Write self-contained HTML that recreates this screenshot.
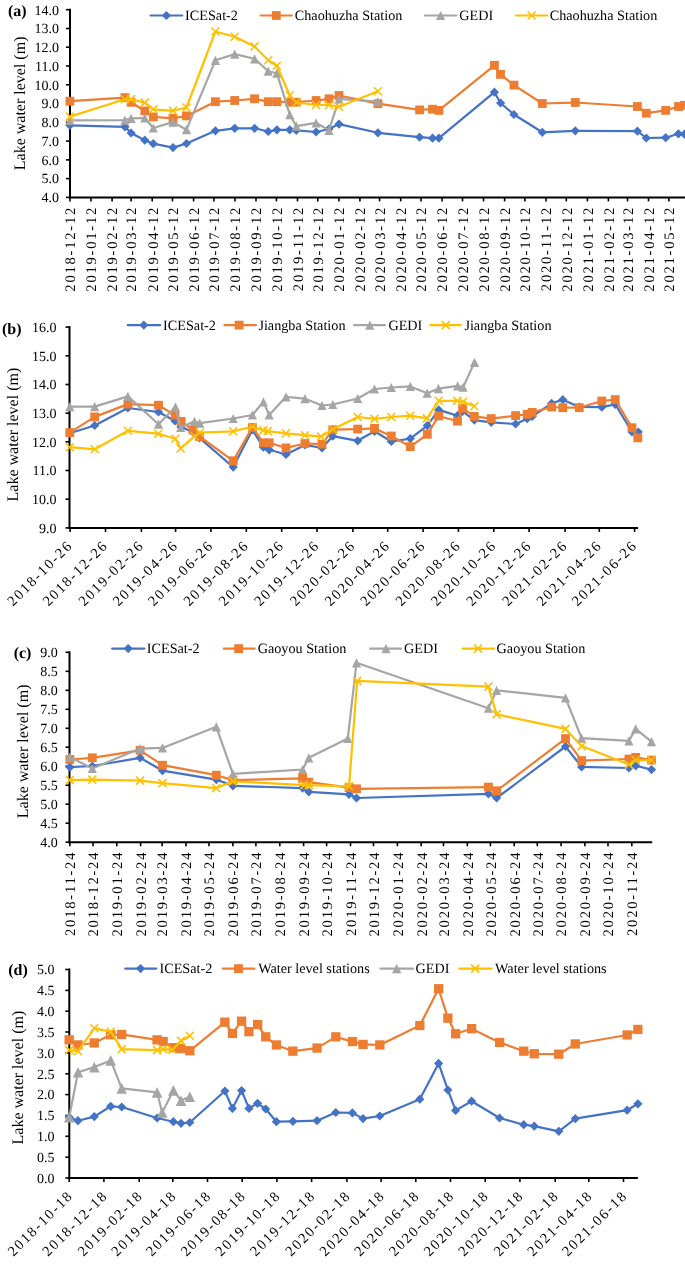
<!DOCTYPE html><html><head><meta charset="utf-8"><style>html,body{margin:0;padding:0;background:#fff;}svg{display:block;}text{font-family:"Liberation Serif",serif;text-rendering:geometricPrecision;}svg{will-change:transform;}</style></head><body>
<svg width="685" height="1283" viewBox="0 0 685 1283">
<rect width="685" height="1283" fill="#fff"/>
<line x1="70" y1="8.7" x2="70" y2="198.4" stroke="#000" stroke-width="2"/>
<line x1="69" y1="197.4" x2="690" y2="197.4" stroke="#000" stroke-width="2"/>
<line x1="66" y1="9.7" x2="70" y2="9.7" stroke="#000" stroke-width="1.6"/>
<text x="59" y="14.5" font-size="14" text-anchor="end" >14.0</text>
<line x1="66" y1="28.5" x2="70" y2="28.5" stroke="#000" stroke-width="1.6"/>
<text x="59" y="33.3" font-size="14" text-anchor="end" >13.0</text>
<line x1="66" y1="47.2" x2="70" y2="47.2" stroke="#000" stroke-width="1.6"/>
<text x="59" y="52.0" font-size="14" text-anchor="end" >12.0</text>
<line x1="66" y1="66.0" x2="70" y2="66.0" stroke="#000" stroke-width="1.6"/>
<text x="59" y="70.8" font-size="14" text-anchor="end" >11.0</text>
<line x1="66" y1="84.8" x2="70" y2="84.8" stroke="#000" stroke-width="1.6"/>
<text x="59" y="89.6" font-size="14" text-anchor="end" >10.0</text>
<line x1="66" y1="103.6" x2="70" y2="103.6" stroke="#000" stroke-width="1.6"/>
<text x="59" y="108.4" font-size="14" text-anchor="end" >9.0</text>
<line x1="66" y1="122.3" x2="70" y2="122.3" stroke="#000" stroke-width="1.6"/>
<text x="59" y="127.1" font-size="14" text-anchor="end" >8.0</text>
<line x1="66" y1="141.1" x2="70" y2="141.1" stroke="#000" stroke-width="1.6"/>
<text x="59" y="145.9" font-size="14" text-anchor="end" >7.0</text>
<line x1="66" y1="159.9" x2="70" y2="159.9" stroke="#000" stroke-width="1.6"/>
<text x="59" y="164.7" font-size="14" text-anchor="end" >6.0</text>
<line x1="66" y1="178.6" x2="70" y2="178.6" stroke="#000" stroke-width="1.6"/>
<text x="59" y="183.4" font-size="14" text-anchor="end" >5.0</text>
<line x1="66" y1="197.4" x2="70" y2="197.4" stroke="#000" stroke-width="1.6"/>
<text x="59" y="202.2" font-size="14" text-anchor="end" >4.0</text>
<text transform="translate(25.0,103.4) rotate(-90)" font-size="16" text-anchor="middle" >Lake water level (m)</text>
<text x="8" y="15.7" font-size="16" font-weight="bold" >(a)</text>
<line x1="70.0" y1="197.4" x2="70.0" y2="201.4" stroke="#000" stroke-width="1.6"/>
<text transform="translate(75.3,206.0) rotate(-90)" font-size="14.5" letter-spacing="1.8" text-anchor="end" >2018-12-12</text>
<line x1="91.0" y1="197.4" x2="91.0" y2="201.4" stroke="#000" stroke-width="1.6"/>
<text transform="translate(96.3,206.0) rotate(-90)" font-size="14.5" letter-spacing="1.8" text-anchor="end" >2019-01-12</text>
<line x1="112.1" y1="197.4" x2="112.1" y2="201.4" stroke="#000" stroke-width="1.6"/>
<text transform="translate(117.4,206.0) rotate(-90)" font-size="14.5" letter-spacing="1.8" text-anchor="end" >2019-02-12</text>
<line x1="131.1" y1="197.4" x2="131.1" y2="201.4" stroke="#000" stroke-width="1.6"/>
<text transform="translate(136.4,206.0) rotate(-90)" font-size="14.5" letter-spacing="1.8" text-anchor="end" >2019-03-12</text>
<line x1="152.2" y1="197.4" x2="152.2" y2="201.4" stroke="#000" stroke-width="1.6"/>
<text transform="translate(157.5,206.0) rotate(-90)" font-size="14.5" letter-spacing="1.8" text-anchor="end" >2019-04-12</text>
<line x1="172.5" y1="197.4" x2="172.5" y2="201.4" stroke="#000" stroke-width="1.6"/>
<text transform="translate(177.8,206.0) rotate(-90)" font-size="14.5" letter-spacing="1.8" text-anchor="end" >2019-05-12</text>
<line x1="193.6" y1="197.4" x2="193.6" y2="201.4" stroke="#000" stroke-width="1.6"/>
<text transform="translate(198.9,206.0) rotate(-90)" font-size="14.5" letter-spacing="1.8" text-anchor="end" >2019-06-12</text>
<line x1="213.9" y1="197.4" x2="213.9" y2="201.4" stroke="#000" stroke-width="1.6"/>
<text transform="translate(219.2,206.0) rotate(-90)" font-size="14.5" letter-spacing="1.8" text-anchor="end" >2019-07-12</text>
<line x1="235.0" y1="197.4" x2="235.0" y2="201.4" stroke="#000" stroke-width="1.6"/>
<text transform="translate(240.3,206.0) rotate(-90)" font-size="14.5" letter-spacing="1.8" text-anchor="end" >2019-08-12</text>
<line x1="256.0" y1="197.4" x2="256.0" y2="201.4" stroke="#000" stroke-width="1.6"/>
<text transform="translate(261.3,206.0) rotate(-90)" font-size="14.5" letter-spacing="1.8" text-anchor="end" >2019-09-12</text>
<line x1="276.4" y1="197.4" x2="276.4" y2="201.4" stroke="#000" stroke-width="1.6"/>
<text transform="translate(281.7,206.0) rotate(-90)" font-size="14.5" letter-spacing="1.8" text-anchor="end" >2019-10-12</text>
<line x1="297.5" y1="197.4" x2="297.5" y2="201.4" stroke="#000" stroke-width="1.6"/>
<text transform="translate(302.8,206.0) rotate(-90)" font-size="14.5" letter-spacing="1.8" text-anchor="end" >2019-11-12</text>
<line x1="317.8" y1="197.4" x2="317.8" y2="201.4" stroke="#000" stroke-width="1.6"/>
<text transform="translate(323.1,206.0) rotate(-90)" font-size="14.5" letter-spacing="1.8" text-anchor="end" >2019-12-12</text>
<line x1="338.9" y1="197.4" x2="338.9" y2="201.4" stroke="#000" stroke-width="1.6"/>
<text transform="translate(344.2,206.0) rotate(-90)" font-size="14.5" letter-spacing="1.8" text-anchor="end" >2020-01-12</text>
<line x1="359.9" y1="197.4" x2="359.9" y2="201.4" stroke="#000" stroke-width="1.6"/>
<text transform="translate(365.2,206.0) rotate(-90)" font-size="14.5" letter-spacing="1.8" text-anchor="end" >2020-02-12</text>
<line x1="379.6" y1="197.4" x2="379.6" y2="201.4" stroke="#000" stroke-width="1.6"/>
<text transform="translate(384.9,206.0) rotate(-90)" font-size="14.5" letter-spacing="1.8" text-anchor="end" >2020-03-12</text>
<line x1="400.7" y1="197.4" x2="400.7" y2="201.4" stroke="#000" stroke-width="1.6"/>
<text transform="translate(406.0,206.0) rotate(-90)" font-size="14.5" letter-spacing="1.8" text-anchor="end" >2020-04-12</text>
<line x1="421.0" y1="197.4" x2="421.0" y2="201.4" stroke="#000" stroke-width="1.6"/>
<text transform="translate(426.3,206.0) rotate(-90)" font-size="14.5" letter-spacing="1.8" text-anchor="end" >2020-05-12</text>
<line x1="442.1" y1="197.4" x2="442.1" y2="201.4" stroke="#000" stroke-width="1.6"/>
<text transform="translate(447.4,206.0) rotate(-90)" font-size="14.5" letter-spacing="1.8" text-anchor="end" >2020-06-12</text>
<line x1="462.5" y1="197.4" x2="462.5" y2="201.4" stroke="#000" stroke-width="1.6"/>
<text transform="translate(467.8,206.0) rotate(-90)" font-size="14.5" letter-spacing="1.8" text-anchor="end" >2020-07-12</text>
<line x1="483.5" y1="197.4" x2="483.5" y2="201.4" stroke="#000" stroke-width="1.6"/>
<text transform="translate(488.8,206.0) rotate(-90)" font-size="14.5" letter-spacing="1.8" text-anchor="end" >2020-08-12</text>
<line x1="504.6" y1="197.4" x2="504.6" y2="201.4" stroke="#000" stroke-width="1.6"/>
<text transform="translate(509.9,206.0) rotate(-90)" font-size="14.5" letter-spacing="1.8" text-anchor="end" >2020-09-12</text>
<line x1="524.9" y1="197.4" x2="524.9" y2="201.4" stroke="#000" stroke-width="1.6"/>
<text transform="translate(530.2,206.0) rotate(-90)" font-size="14.5" letter-spacing="1.8" text-anchor="end" >2020-10-12</text>
<line x1="546.0" y1="197.4" x2="546.0" y2="201.4" stroke="#000" stroke-width="1.6"/>
<text transform="translate(551.3,206.0) rotate(-90)" font-size="14.5" letter-spacing="1.8" text-anchor="end" >2020-11-12</text>
<line x1="566.3" y1="197.4" x2="566.3" y2="201.4" stroke="#000" stroke-width="1.6"/>
<text transform="translate(571.6,206.0) rotate(-90)" font-size="14.5" letter-spacing="1.8" text-anchor="end" >2020-12-12</text>
<line x1="587.4" y1="197.4" x2="587.4" y2="201.4" stroke="#000" stroke-width="1.6"/>
<text transform="translate(592.7,206.0) rotate(-90)" font-size="14.5" letter-spacing="1.8" text-anchor="end" >2021-01-12</text>
<line x1="608.4" y1="197.4" x2="608.4" y2="201.4" stroke="#000" stroke-width="1.6"/>
<text transform="translate(613.7,206.0) rotate(-90)" font-size="14.5" letter-spacing="1.8" text-anchor="end" >2021-02-12</text>
<line x1="627.5" y1="197.4" x2="627.5" y2="201.4" stroke="#000" stroke-width="1.6"/>
<text transform="translate(632.8,206.0) rotate(-90)" font-size="14.5" letter-spacing="1.8" text-anchor="end" >2021-03-12</text>
<line x1="648.5" y1="197.4" x2="648.5" y2="201.4" stroke="#000" stroke-width="1.6"/>
<text transform="translate(653.8,206.0) rotate(-90)" font-size="14.5" letter-spacing="1.8" text-anchor="end" >2021-04-12</text>
<line x1="668.9" y1="197.4" x2="668.9" y2="201.4" stroke="#000" stroke-width="1.6"/>
<text transform="translate(674.2,206.0) rotate(-90)" font-size="14.5" letter-spacing="1.8" text-anchor="end" >2021-05-12</text>
<svg x="0" y="0" width="685" height="300" overflow="hidden">
<polyline points="69.9,125.3 124.9,126.8 131.1,133 144.8,140.2 153.3,143.7 173,147.6 186.5,143.5 215.4,130.8 234.7,128.3 254.6,128.3 268.2,131.5 276.9,129.8 289.8,129.8 296.3,130.3 316.1,132 329,129 339,124.1 377.9,132.8 419.6,137.2 432.5,138.2 438.9,138.2 494.4,92.2 500.6,103 513.9,114.5 542.3,132.3 575.3,130.8 637.4,131.2 646.3,138 665.7,137.7 678.4,133.8 684.5,134.2" fill="none" stroke="#4472C4" stroke-width="2.2" stroke-linejoin="round"/>
<path d="M69.9,120.7L74.5,125.3L69.9,129.9L65.3,125.3Z" fill="#4472C4"/>
<path d="M124.9,122.2L129.5,126.8L124.9,131.4L120.3,126.8Z" fill="#4472C4"/>
<path d="M131.1,128.4L135.7,133.0L131.1,137.6L126.5,133.0Z" fill="#4472C4"/>
<path d="M144.8,135.6L149.4,140.2L144.8,144.8L140.2,140.2Z" fill="#4472C4"/>
<path d="M153.3,139.1L157.9,143.7L153.3,148.3L148.7,143.7Z" fill="#4472C4"/>
<path d="M173.0,143.0L177.6,147.6L173.0,152.2L168.4,147.6Z" fill="#4472C4"/>
<path d="M186.5,138.9L191.1,143.5L186.5,148.1L181.9,143.5Z" fill="#4472C4"/>
<path d="M215.4,126.2L220.0,130.8L215.4,135.4L210.8,130.8Z" fill="#4472C4"/>
<path d="M234.7,123.7L239.3,128.3L234.7,132.9L230.1,128.3Z" fill="#4472C4"/>
<path d="M254.6,123.7L259.2,128.3L254.6,132.9L250.0,128.3Z" fill="#4472C4"/>
<path d="M268.2,126.9L272.8,131.5L268.2,136.1L263.6,131.5Z" fill="#4472C4"/>
<path d="M276.9,125.2L281.5,129.8L276.9,134.4L272.3,129.8Z" fill="#4472C4"/>
<path d="M289.8,125.2L294.4,129.8L289.8,134.4L285.2,129.8Z" fill="#4472C4"/>
<path d="M296.3,125.7L300.9,130.3L296.3,134.9L291.7,130.3Z" fill="#4472C4"/>
<path d="M316.1,127.4L320.7,132.0L316.1,136.6L311.5,132.0Z" fill="#4472C4"/>
<path d="M329.0,124.4L333.6,129.0L329.0,133.6L324.4,129.0Z" fill="#4472C4"/>
<path d="M339.0,119.5L343.6,124.1L339.0,128.7L334.4,124.1Z" fill="#4472C4"/>
<path d="M377.9,128.2L382.5,132.8L377.9,137.4L373.3,132.8Z" fill="#4472C4"/>
<path d="M419.6,132.6L424.2,137.2L419.6,141.8L415.0,137.2Z" fill="#4472C4"/>
<path d="M432.5,133.6L437.1,138.2L432.5,142.8L427.9,138.2Z" fill="#4472C4"/>
<path d="M438.9,133.6L443.5,138.2L438.9,142.8L434.3,138.2Z" fill="#4472C4"/>
<path d="M494.4,87.6L499.0,92.2L494.4,96.8L489.8,92.2Z" fill="#4472C4"/>
<path d="M500.6,98.4L505.2,103.0L500.6,107.6L496.0,103.0Z" fill="#4472C4"/>
<path d="M513.9,109.9L518.5,114.5L513.9,119.1L509.3,114.5Z" fill="#4472C4"/>
<path d="M542.3,127.7L546.9,132.3L542.3,136.9L537.7,132.3Z" fill="#4472C4"/>
<path d="M575.3,126.2L579.9,130.8L575.3,135.4L570.7,130.8Z" fill="#4472C4"/>
<path d="M637.4,126.6L642.0,131.2L637.4,135.8L632.8,131.2Z" fill="#4472C4"/>
<path d="M646.3,133.4L650.9,138.0L646.3,142.6L641.7,138.0Z" fill="#4472C4"/>
<path d="M665.7,133.1L670.3,137.7L665.7,142.3L661.1,137.7Z" fill="#4472C4"/>
<path d="M678.4,129.2L683.0,133.8L678.4,138.4L673.8,133.8Z" fill="#4472C4"/>
<path d="M684.5,129.6L689.1,134.2L684.5,138.8L679.9,134.2Z" fill="#4472C4"/>
<polyline points="69.9,101.2 124.9,97.6 131.1,102.3 144.8,111 153.3,116.9 173,118.4 186.5,115.9 215.4,101.7 234.7,100.5 254.6,98.8 268.2,101.7 276.9,101.7 289.8,102.2 296.3,102.2 316.1,100.5 329,98.8 339,95.5 377.9,103.7 419.6,109.9 432.5,109.2 438.9,110.4 494.4,65.3 500.5,74.4 513.9,85.1 542.3,103.5 575.3,102.5 637.4,106.5 646.3,113.2 665.7,110.4 678.6,106.5 684.5,105.3" fill="none" stroke="#ED7D31" stroke-width="2.2" stroke-linejoin="round"/>
<rect x="65.5" y="96.8" width="8.8" height="8.8" fill="#ED7D31"/>
<rect x="120.5" y="93.2" width="8.8" height="8.8" fill="#ED7D31"/>
<rect x="126.7" y="97.9" width="8.8" height="8.8" fill="#ED7D31"/>
<rect x="140.4" y="106.6" width="8.8" height="8.8" fill="#ED7D31"/>
<rect x="148.9" y="112.5" width="8.8" height="8.8" fill="#ED7D31"/>
<rect x="168.6" y="114.0" width="8.8" height="8.8" fill="#ED7D31"/>
<rect x="182.1" y="111.5" width="8.8" height="8.8" fill="#ED7D31"/>
<rect x="211.0" y="97.3" width="8.8" height="8.8" fill="#ED7D31"/>
<rect x="230.3" y="96.1" width="8.8" height="8.8" fill="#ED7D31"/>
<rect x="250.2" y="94.4" width="8.8" height="8.8" fill="#ED7D31"/>
<rect x="263.8" y="97.3" width="8.8" height="8.8" fill="#ED7D31"/>
<rect x="272.5" y="97.3" width="8.8" height="8.8" fill="#ED7D31"/>
<rect x="285.4" y="97.8" width="8.8" height="8.8" fill="#ED7D31"/>
<rect x="291.9" y="97.8" width="8.8" height="8.8" fill="#ED7D31"/>
<rect x="311.7" y="96.1" width="8.8" height="8.8" fill="#ED7D31"/>
<rect x="324.6" y="94.4" width="8.8" height="8.8" fill="#ED7D31"/>
<rect x="334.6" y="91.1" width="8.8" height="8.8" fill="#ED7D31"/>
<rect x="373.5" y="99.3" width="8.8" height="8.8" fill="#ED7D31"/>
<rect x="415.2" y="105.5" width="8.8" height="8.8" fill="#ED7D31"/>
<rect x="428.1" y="104.8" width="8.8" height="8.8" fill="#ED7D31"/>
<rect x="434.5" y="106.0" width="8.8" height="8.8" fill="#ED7D31"/>
<rect x="490.0" y="60.9" width="8.8" height="8.8" fill="#ED7D31"/>
<rect x="496.1" y="70.0" width="8.8" height="8.8" fill="#ED7D31"/>
<rect x="509.5" y="80.7" width="8.8" height="8.8" fill="#ED7D31"/>
<rect x="537.9" y="99.1" width="8.8" height="8.8" fill="#ED7D31"/>
<rect x="570.9" y="98.1" width="8.8" height="8.8" fill="#ED7D31"/>
<rect x="633.0" y="102.1" width="8.8" height="8.8" fill="#ED7D31"/>
<rect x="641.9" y="108.8" width="8.8" height="8.8" fill="#ED7D31"/>
<rect x="661.3" y="106.0" width="8.8" height="8.8" fill="#ED7D31"/>
<rect x="674.2" y="102.1" width="8.8" height="8.8" fill="#ED7D31"/>
<rect x="680.1" y="100.9" width="8.8" height="8.8" fill="#ED7D31"/>
<polyline points="69.9,120.3 124.9,120.1 131.1,118.4 144.8,118 153.3,128 173,122.1 186.5,129.7 215.4,60.3 234.7,54.1 254.6,58.8 268.2,71.2 276.9,73.2 289.8,114.6 296.3,126.1 316.1,122.8 329,130.3 339,98.8 377.9,101.7" fill="none" stroke="#A5A5A5" stroke-width="2.2" stroke-linejoin="round"/>
<path d="M69.9,115.7L74.5,124.9L65.3,124.9Z" fill="#A5A5A5"/>
<path d="M124.9,115.5L129.5,124.7L120.3,124.7Z" fill="#A5A5A5"/>
<path d="M131.1,113.8L135.7,123.0L126.5,123.0Z" fill="#A5A5A5"/>
<path d="M144.8,113.4L149.4,122.6L140.2,122.6Z" fill="#A5A5A5"/>
<path d="M153.3,123.4L157.9,132.6L148.7,132.6Z" fill="#A5A5A5"/>
<path d="M173.0,117.5L177.6,126.7L168.4,126.7Z" fill="#A5A5A5"/>
<path d="M186.5,125.1L191.1,134.3L181.9,134.3Z" fill="#A5A5A5"/>
<path d="M215.4,55.7L220.0,64.9L210.8,64.9Z" fill="#A5A5A5"/>
<path d="M234.7,49.5L239.3,58.7L230.1,58.7Z" fill="#A5A5A5"/>
<path d="M254.6,54.2L259.2,63.4L250.0,63.4Z" fill="#A5A5A5"/>
<path d="M268.2,66.6L272.8,75.8L263.6,75.8Z" fill="#A5A5A5"/>
<path d="M276.9,68.6L281.5,77.8L272.3,77.8Z" fill="#A5A5A5"/>
<path d="M289.8,110.0L294.4,119.2L285.2,119.2Z" fill="#A5A5A5"/>
<path d="M296.3,121.5L300.9,130.7L291.7,130.7Z" fill="#A5A5A5"/>
<path d="M316.1,118.2L320.7,127.4L311.5,127.4Z" fill="#A5A5A5"/>
<path d="M329.0,125.7L333.6,134.9L324.4,134.9Z" fill="#A5A5A5"/>
<path d="M339.0,94.2L343.6,103.4L334.4,103.4Z" fill="#A5A5A5"/>
<path d="M377.9,97.1L382.5,106.3L373.3,106.3Z" fill="#A5A5A5"/>
<polyline points="69.9,116.6 124.9,99.3 131.1,99.3 144.8,102.6 153.3,109.3 173,110.8 186.5,107.5 215.4,31.5 234.7,36.7 254.6,46.4 268.2,60.3 276.9,65.8 289.8,95.5 296.3,102.5 316.1,105 329,105 339,106.7 377.9,91.3" fill="none" stroke="#FFC000" stroke-width="2.2" stroke-linejoin="round"/>
<path d="M65.9,112.6L73.9,120.6M73.9,112.6L65.9,120.6" stroke="#FFC000" stroke-width="1.6" fill="none"/>
<path d="M120.9,95.3L128.9,103.3M128.9,95.3L120.9,103.3" stroke="#FFC000" stroke-width="1.6" fill="none"/>
<path d="M127.1,95.3L135.1,103.3M135.1,95.3L127.1,103.3" stroke="#FFC000" stroke-width="1.6" fill="none"/>
<path d="M140.8,98.6L148.8,106.6M148.8,98.6L140.8,106.6" stroke="#FFC000" stroke-width="1.6" fill="none"/>
<path d="M149.3,105.3L157.3,113.3M157.3,105.3L149.3,113.3" stroke="#FFC000" stroke-width="1.6" fill="none"/>
<path d="M169.0,106.8L177.0,114.8M177.0,106.8L169.0,114.8" stroke="#FFC000" stroke-width="1.6" fill="none"/>
<path d="M182.5,103.5L190.5,111.5M190.5,103.5L182.5,111.5" stroke="#FFC000" stroke-width="1.6" fill="none"/>
<path d="M211.4,27.5L219.4,35.5M219.4,27.5L211.4,35.5" stroke="#FFC000" stroke-width="1.6" fill="none"/>
<path d="M230.7,32.7L238.7,40.7M238.7,32.7L230.7,40.7" stroke="#FFC000" stroke-width="1.6" fill="none"/>
<path d="M250.6,42.4L258.6,50.4M258.6,42.4L250.6,50.4" stroke="#FFC000" stroke-width="1.6" fill="none"/>
<path d="M264.2,56.3L272.2,64.3M272.2,56.3L264.2,64.3" stroke="#FFC000" stroke-width="1.6" fill="none"/>
<path d="M272.9,61.8L280.9,69.8M280.9,61.8L272.9,69.8" stroke="#FFC000" stroke-width="1.6" fill="none"/>
<path d="M285.8,91.5L293.8,99.5M293.8,91.5L285.8,99.5" stroke="#FFC000" stroke-width="1.6" fill="none"/>
<path d="M292.3,98.5L300.3,106.5M300.3,98.5L292.3,106.5" stroke="#FFC000" stroke-width="1.6" fill="none"/>
<path d="M312.1,101.0L320.1,109.0M320.1,101.0L312.1,109.0" stroke="#FFC000" stroke-width="1.6" fill="none"/>
<path d="M325.0,101.0L333.0,109.0M333.0,101.0L325.0,109.0" stroke="#FFC000" stroke-width="1.6" fill="none"/>
<path d="M335.0,102.7L343.0,110.7M343.0,102.7L335.0,110.7" stroke="#FFC000" stroke-width="1.6" fill="none"/>
<path d="M373.9,87.3L381.9,95.3M381.9,87.3L373.9,95.3" stroke="#FFC000" stroke-width="1.6" fill="none"/>
</svg>
<line x1="150.6" y1="15.5" x2="182.2" y2="15.5" stroke="#4472C4" stroke-width="2.2" stroke-linecap="round"/>
<path d="M166.4,10.9L171.0,15.5L166.4,20.1L161.8,15.5Z" fill="#4472C4"/>
<text x="185.1" y="20.2" font-size="14.2" >ICESat-2</text>
<line x1="260.7" y1="15.5" x2="291.8" y2="15.5" stroke="#ED7D31" stroke-width="2.2" stroke-linecap="round"/>
<rect x="271.9" y="11.1" width="8.8" height="8.8" fill="#ED7D31"/>
<text x="294.8" y="20.2" font-size="14.2" >Chaohuzha Station</text>
<line x1="425" y1="15.5" x2="456.3" y2="15.5" stroke="#A5A5A5" stroke-width="2.2" stroke-linecap="round"/>
<path d="M440.6,10.9L445.2,20.1L436.0,20.1Z" fill="#A5A5A5"/>
<text x="459.3" y="20.2" font-size="14.2" >GEDI</text>
<line x1="516" y1="15.5" x2="547.3" y2="15.5" stroke="#FFC000" stroke-width="2.2" stroke-linecap="round"/>
<path d="M527.6,11.5L535.6,19.5M535.6,11.5L527.6,19.5" stroke="#FFC000" stroke-width="1.6" fill="none"/>
<text x="549.7" y="20.2" font-size="14.2" >Chaohuzha Station</text>
<line x1="69.5" y1="326.1" x2="69.5" y2="528.9" stroke="#000" stroke-width="2"/>
<line x1="68.5" y1="527.9" x2="638.1" y2="527.9" stroke="#000" stroke-width="2"/>
<line x1="65.5" y1="327.1" x2="69.5" y2="327.1" stroke="#000" stroke-width="1.6"/>
<text x="56.6" y="331.9" font-size="14" text-anchor="end" >16.0</text>
<line x1="65.5" y1="355.8" x2="69.5" y2="355.8" stroke="#000" stroke-width="1.6"/>
<text x="56.6" y="360.6" font-size="14" text-anchor="end" >15.0</text>
<line x1="65.5" y1="384.5" x2="69.5" y2="384.5" stroke="#000" stroke-width="1.6"/>
<text x="56.6" y="389.3" font-size="14" text-anchor="end" >14.0</text>
<line x1="65.5" y1="413.2" x2="69.5" y2="413.2" stroke="#000" stroke-width="1.6"/>
<text x="56.6" y="418.0" font-size="14" text-anchor="end" >13.0</text>
<line x1="65.5" y1="441.8" x2="69.5" y2="441.8" stroke="#000" stroke-width="1.6"/>
<text x="56.6" y="446.6" font-size="14" text-anchor="end" >12.0</text>
<line x1="65.5" y1="470.5" x2="69.5" y2="470.5" stroke="#000" stroke-width="1.6"/>
<text x="56.6" y="475.3" font-size="14" text-anchor="end" >11.0</text>
<line x1="65.5" y1="499.2" x2="69.5" y2="499.2" stroke="#000" stroke-width="1.6"/>
<text x="56.6" y="504.0" font-size="14" text-anchor="end" >10.0</text>
<line x1="65.5" y1="527.9" x2="69.5" y2="527.9" stroke="#000" stroke-width="1.6"/>
<text x="56.6" y="532.7" font-size="14" text-anchor="end" >9.0</text>
<text transform="translate(17.9,434.6) rotate(-90)" font-size="16" text-anchor="middle" >Lake water level (m)</text>
<text x="2" y="334.2" font-size="16" font-weight="bold" >(b)</text>
<line x1="70.1" y1="527.9" x2="70.1" y2="531.9" stroke="#000" stroke-width="1.6"/>
<text transform="translate(73.6,546.1999999999999) rotate(-45)" font-size="14.5" letter-spacing="1.8" text-anchor="end" >2018-10-26</text>
<line x1="105.5" y1="527.9" x2="105.5" y2="531.9" stroke="#000" stroke-width="1.6"/>
<text transform="translate(109.0,546.1999999999999) rotate(-45)" font-size="14.5" letter-spacing="1.8" text-anchor="end" >2018-12-26</text>
<line x1="141.4" y1="527.9" x2="141.4" y2="531.9" stroke="#000" stroke-width="1.6"/>
<text transform="translate(144.9,546.1999999999999) rotate(-45)" font-size="14.5" letter-spacing="1.8" text-anchor="end" >2019-02-26</text>
<line x1="175.6" y1="527.9" x2="175.6" y2="531.9" stroke="#000" stroke-width="1.6"/>
<text transform="translate(179.1,546.1999999999999) rotate(-45)" font-size="14.5" letter-spacing="1.8" text-anchor="end" >2019-04-26</text>
<line x1="210.9" y1="527.9" x2="210.9" y2="531.9" stroke="#000" stroke-width="1.6"/>
<text transform="translate(214.4,546.1999999999999) rotate(-45)" font-size="14.5" letter-spacing="1.8" text-anchor="end" >2019-06-26</text>
<line x1="246.3" y1="527.9" x2="246.3" y2="531.9" stroke="#000" stroke-width="1.6"/>
<text transform="translate(249.8,546.1999999999999) rotate(-45)" font-size="14.5" letter-spacing="1.8" text-anchor="end" >2019-08-26</text>
<line x1="281.7" y1="527.9" x2="281.7" y2="531.9" stroke="#000" stroke-width="1.6"/>
<text transform="translate(285.2,546.1999999999999) rotate(-45)" font-size="14.5" letter-spacing="1.8" text-anchor="end" >2019-10-26</text>
<line x1="317.0" y1="527.9" x2="317.0" y2="531.9" stroke="#000" stroke-width="1.6"/>
<text transform="translate(320.5,546.1999999999999) rotate(-45)" font-size="14.5" letter-spacing="1.8" text-anchor="end" >2019-12-26</text>
<line x1="352.9" y1="527.9" x2="352.9" y2="531.9" stroke="#000" stroke-width="1.6"/>
<text transform="translate(356.4,546.1999999999999) rotate(-45)" font-size="14.5" letter-spacing="1.8" text-anchor="end" >2020-02-26</text>
<line x1="387.7" y1="527.9" x2="387.7" y2="531.9" stroke="#000" stroke-width="1.6"/>
<text transform="translate(391.2,546.1999999999999) rotate(-45)" font-size="14.5" letter-spacing="1.8" text-anchor="end" >2020-04-26</text>
<line x1="423.1" y1="527.9" x2="423.1" y2="531.9" stroke="#000" stroke-width="1.6"/>
<text transform="translate(426.6,546.1999999999999) rotate(-45)" font-size="14.5" letter-spacing="1.8" text-anchor="end" >2020-06-26</text>
<line x1="458.4" y1="527.9" x2="458.4" y2="531.9" stroke="#000" stroke-width="1.6"/>
<text transform="translate(461.9,546.1999999999999) rotate(-45)" font-size="14.5" letter-spacing="1.8" text-anchor="end" >2020-08-26</text>
<line x1="493.8" y1="527.9" x2="493.8" y2="531.9" stroke="#000" stroke-width="1.6"/>
<text transform="translate(497.3,546.1999999999999) rotate(-45)" font-size="14.5" letter-spacing="1.8" text-anchor="end" >2020-10-26</text>
<line x1="529.1" y1="527.9" x2="529.1" y2="531.9" stroke="#000" stroke-width="1.6"/>
<text transform="translate(532.6,546.1999999999999) rotate(-45)" font-size="14.5" letter-spacing="1.8" text-anchor="end" >2020-12-26</text>
<line x1="565.1" y1="527.9" x2="565.1" y2="531.9" stroke="#000" stroke-width="1.6"/>
<text transform="translate(568.6,546.1999999999999) rotate(-45)" font-size="14.5" letter-spacing="1.8" text-anchor="end" >2021-02-26</text>
<line x1="599.3" y1="527.9" x2="599.3" y2="531.9" stroke="#000" stroke-width="1.6"/>
<text transform="translate(602.8,546.1999999999999) rotate(-45)" font-size="14.5" letter-spacing="1.8" text-anchor="end" >2021-04-26</text>
<line x1="634.6" y1="527.9" x2="634.6" y2="531.9" stroke="#000" stroke-width="1.6"/>
<text transform="translate(638.1,546.1999999999999) rotate(-45)" font-size="14.5" letter-spacing="1.8" text-anchor="end" >2021-06-26</text>
<polyline points="69.8,433.3 94.7,425.5 127.9,408 158.5,412 175,421 181,427 193,432 199.5,438 233.2,467.1 252.4,430 263.4,447.2 269.2,449.8 286,454.5 305,445 322,447.9 332.7,436.2 357.7,440.8 374.5,431.3 391.3,441.5 410.3,438.6 427.3,425.6 438.7,409.9 457.5,415.7 462.6,411.3 474.3,420.1 491.2,422.3 515.6,424 527.2,418.7 532.2,416.5 551.6,403.4 562.8,399.7 579.3,407 601.8,407.2 615.2,404.3 632,432 638.3,432" fill="none" stroke="#4472C4" stroke-width="2.2" stroke-linejoin="round"/>
<path d="M69.8,428.7L74.4,433.3L69.8,437.9L65.2,433.3Z" fill="#4472C4"/>
<path d="M94.7,420.9L99.3,425.5L94.7,430.1L90.1,425.5Z" fill="#4472C4"/>
<path d="M127.9,403.4L132.5,408.0L127.9,412.6L123.3,408.0Z" fill="#4472C4"/>
<path d="M158.5,407.4L163.1,412.0L158.5,416.6L153.9,412.0Z" fill="#4472C4"/>
<path d="M175.0,416.4L179.6,421.0L175.0,425.6L170.4,421.0Z" fill="#4472C4"/>
<path d="M181.0,422.4L185.6,427.0L181.0,431.6L176.4,427.0Z" fill="#4472C4"/>
<path d="M193.0,427.4L197.6,432.0L193.0,436.6L188.4,432.0Z" fill="#4472C4"/>
<path d="M199.5,433.4L204.1,438.0L199.5,442.6L194.9,438.0Z" fill="#4472C4"/>
<path d="M233.2,462.5L237.8,467.1L233.2,471.7L228.6,467.1Z" fill="#4472C4"/>
<path d="M252.4,425.4L257.0,430.0L252.4,434.6L247.8,430.0Z" fill="#4472C4"/>
<path d="M263.4,442.6L268.0,447.2L263.4,451.8L258.8,447.2Z" fill="#4472C4"/>
<path d="M269.2,445.2L273.8,449.8L269.2,454.4L264.6,449.8Z" fill="#4472C4"/>
<path d="M286.0,449.9L290.6,454.5L286.0,459.1L281.4,454.5Z" fill="#4472C4"/>
<path d="M305.0,440.4L309.6,445.0L305.0,449.6L300.4,445.0Z" fill="#4472C4"/>
<path d="M322.0,443.3L326.6,447.9L322.0,452.5L317.4,447.9Z" fill="#4472C4"/>
<path d="M332.7,431.6L337.3,436.2L332.7,440.8L328.1,436.2Z" fill="#4472C4"/>
<path d="M357.7,436.2L362.3,440.8L357.7,445.4L353.1,440.8Z" fill="#4472C4"/>
<path d="M374.5,426.7L379.1,431.3L374.5,435.9L369.9,431.3Z" fill="#4472C4"/>
<path d="M391.3,436.9L395.9,441.5L391.3,446.1L386.7,441.5Z" fill="#4472C4"/>
<path d="M410.3,434.0L414.9,438.6L410.3,443.2L405.7,438.6Z" fill="#4472C4"/>
<path d="M427.3,421.0L431.9,425.6L427.3,430.2L422.7,425.6Z" fill="#4472C4"/>
<path d="M438.7,405.3L443.3,409.9L438.7,414.5L434.1,409.9Z" fill="#4472C4"/>
<path d="M457.5,411.1L462.1,415.7L457.5,420.3L452.9,415.7Z" fill="#4472C4"/>
<path d="M462.6,406.7L467.2,411.3L462.6,415.9L458.0,411.3Z" fill="#4472C4"/>
<path d="M474.3,415.5L478.9,420.1L474.3,424.7L469.7,420.1Z" fill="#4472C4"/>
<path d="M491.2,417.7L495.8,422.3L491.2,426.9L486.6,422.3Z" fill="#4472C4"/>
<path d="M515.6,419.4L520.2,424.0L515.6,428.6L511.0,424.0Z" fill="#4472C4"/>
<path d="M527.2,414.1L531.8,418.7L527.2,423.3L522.6,418.7Z" fill="#4472C4"/>
<path d="M532.2,411.9L536.8,416.5L532.2,421.1L527.6,416.5Z" fill="#4472C4"/>
<path d="M551.6,398.8L556.2,403.4L551.6,408.0L547.0,403.4Z" fill="#4472C4"/>
<path d="M562.8,395.1L567.4,399.7L562.8,404.3L558.2,399.7Z" fill="#4472C4"/>
<path d="M579.3,402.4L583.9,407.0L579.3,411.6L574.7,407.0Z" fill="#4472C4"/>
<path d="M601.8,402.6L606.4,407.2L601.8,411.8L597.2,407.2Z" fill="#4472C4"/>
<path d="M615.2,399.7L619.8,404.3L615.2,408.9L610.6,404.3Z" fill="#4472C4"/>
<path d="M632.0,427.4L636.6,432.0L632.0,436.6L627.4,432.0Z" fill="#4472C4"/>
<path d="M638.3,427.4L642.9,432.0L638.3,436.6L633.7,432.0Z" fill="#4472C4"/>
<polyline points="69.8,432.6 94.7,416.9 127.9,404.1 158.5,405.2 175,415.1 181.1,421.3 193,430 199.5,436.5 233.2,460.8 252.4,427.4 263.4,442.8 269.2,442.8 286,447.9 305,443.5 322,444.2 332.8,429.7 357.7,429.1 374.5,428.4 391.3,436 410.3,446.6 427.3,434.3 438.7,416 457.5,421.2 462.6,408.4 474.3,416.4 491.2,418.6 515.6,415.6 527.2,414.3 532.2,412.4 551.6,407 562.8,407.7 579.3,407.7 601.8,401 615.2,399.6 632,427.7 637.8,437.9" fill="none" stroke="#ED7D31" stroke-width="2.2" stroke-linejoin="round"/>
<rect x="65.4" y="428.2" width="8.8" height="8.8" fill="#ED7D31"/>
<rect x="90.3" y="412.5" width="8.8" height="8.8" fill="#ED7D31"/>
<rect x="123.5" y="399.7" width="8.8" height="8.8" fill="#ED7D31"/>
<rect x="154.1" y="400.8" width="8.8" height="8.8" fill="#ED7D31"/>
<rect x="170.6" y="410.7" width="8.8" height="8.8" fill="#ED7D31"/>
<rect x="176.7" y="416.9" width="8.8" height="8.8" fill="#ED7D31"/>
<rect x="188.6" y="425.6" width="8.8" height="8.8" fill="#ED7D31"/>
<rect x="195.1" y="432.1" width="8.8" height="8.8" fill="#ED7D31"/>
<rect x="228.8" y="456.4" width="8.8" height="8.8" fill="#ED7D31"/>
<rect x="248.0" y="423.0" width="8.8" height="8.8" fill="#ED7D31"/>
<rect x="259.0" y="438.4" width="8.8" height="8.8" fill="#ED7D31"/>
<rect x="264.8" y="438.4" width="8.8" height="8.8" fill="#ED7D31"/>
<rect x="281.6" y="443.5" width="8.8" height="8.8" fill="#ED7D31"/>
<rect x="300.6" y="439.1" width="8.8" height="8.8" fill="#ED7D31"/>
<rect x="317.6" y="439.8" width="8.8" height="8.8" fill="#ED7D31"/>
<rect x="328.4" y="425.3" width="8.8" height="8.8" fill="#ED7D31"/>
<rect x="353.3" y="424.7" width="8.8" height="8.8" fill="#ED7D31"/>
<rect x="370.1" y="424.0" width="8.8" height="8.8" fill="#ED7D31"/>
<rect x="386.9" y="431.6" width="8.8" height="8.8" fill="#ED7D31"/>
<rect x="405.9" y="442.2" width="8.8" height="8.8" fill="#ED7D31"/>
<rect x="422.9" y="429.9" width="8.8" height="8.8" fill="#ED7D31"/>
<rect x="434.3" y="411.6" width="8.8" height="8.8" fill="#ED7D31"/>
<rect x="453.1" y="416.8" width="8.8" height="8.8" fill="#ED7D31"/>
<rect x="458.2" y="404.0" width="8.8" height="8.8" fill="#ED7D31"/>
<rect x="469.9" y="412.0" width="8.8" height="8.8" fill="#ED7D31"/>
<rect x="486.8" y="414.2" width="8.8" height="8.8" fill="#ED7D31"/>
<rect x="511.2" y="411.2" width="8.8" height="8.8" fill="#ED7D31"/>
<rect x="522.8" y="409.9" width="8.8" height="8.8" fill="#ED7D31"/>
<rect x="527.8" y="408.0" width="8.8" height="8.8" fill="#ED7D31"/>
<rect x="547.2" y="402.6" width="8.8" height="8.8" fill="#ED7D31"/>
<rect x="558.4" y="403.3" width="8.8" height="8.8" fill="#ED7D31"/>
<rect x="574.9" y="403.3" width="8.8" height="8.8" fill="#ED7D31"/>
<rect x="597.4" y="396.6" width="8.8" height="8.8" fill="#ED7D31"/>
<rect x="610.8" y="395.2" width="8.8" height="8.8" fill="#ED7D31"/>
<rect x="627.6" y="423.3" width="8.8" height="8.8" fill="#ED7D31"/>
<rect x="633.4" y="433.5" width="8.8" height="8.8" fill="#ED7D31"/>
<polyline points="69.8,406.6 94.7,406.6 127.9,396.4 158.5,424.2 175.4,407 180.7,427.5 194.5,421.3 199.7,423.2 233.2,418.5 252.4,415 263.4,401.9 269.2,415 286,396.8 305,398.7 322,405.5 332.8,404.5 357.7,398.5 374.5,389 391.3,387.5 410.3,386.4 427.2,393.2 438.5,388.7 457.7,385.8 463.1,387.2 474.5,362.4" fill="none" stroke="#A5A5A5" stroke-width="2.2" stroke-linejoin="round"/>
<path d="M69.8,402.0L74.4,411.2L65.2,411.2Z" fill="#A5A5A5"/>
<path d="M94.7,402.0L99.3,411.2L90.1,411.2Z" fill="#A5A5A5"/>
<path d="M127.9,391.8L132.5,401.0L123.3,401.0Z" fill="#A5A5A5"/>
<path d="M158.5,419.6L163.1,428.8L153.9,428.8Z" fill="#A5A5A5"/>
<path d="M175.4,402.4L180.0,411.6L170.8,411.6Z" fill="#A5A5A5"/>
<path d="M180.7,422.9L185.3,432.1L176.1,432.1Z" fill="#A5A5A5"/>
<path d="M194.5,416.7L199.1,425.9L189.9,425.9Z" fill="#A5A5A5"/>
<path d="M199.7,418.6L204.3,427.8L195.1,427.8Z" fill="#A5A5A5"/>
<path d="M233.2,413.9L237.8,423.1L228.6,423.1Z" fill="#A5A5A5"/>
<path d="M252.4,410.4L257.0,419.6L247.8,419.6Z" fill="#A5A5A5"/>
<path d="M263.4,397.3L268.0,406.5L258.8,406.5Z" fill="#A5A5A5"/>
<path d="M269.2,410.4L273.8,419.6L264.6,419.6Z" fill="#A5A5A5"/>
<path d="M286.0,392.2L290.6,401.4L281.4,401.4Z" fill="#A5A5A5"/>
<path d="M305.0,394.1L309.6,403.3L300.4,403.3Z" fill="#A5A5A5"/>
<path d="M322.0,400.9L326.6,410.1L317.4,410.1Z" fill="#A5A5A5"/>
<path d="M332.8,399.9L337.4,409.1L328.2,409.1Z" fill="#A5A5A5"/>
<path d="M357.7,393.9L362.3,403.1L353.1,403.1Z" fill="#A5A5A5"/>
<path d="M374.5,384.4L379.1,393.6L369.9,393.6Z" fill="#A5A5A5"/>
<path d="M391.3,382.9L395.9,392.1L386.7,392.1Z" fill="#A5A5A5"/>
<path d="M410.3,381.8L414.9,391.0L405.7,391.0Z" fill="#A5A5A5"/>
<path d="M427.2,388.6L431.8,397.8L422.6,397.8Z" fill="#A5A5A5"/>
<path d="M438.5,384.1L443.1,393.3L433.9,393.3Z" fill="#A5A5A5"/>
<path d="M457.7,381.2L462.3,390.4L453.1,390.4Z" fill="#A5A5A5"/>
<path d="M463.1,382.6L467.7,391.8L458.5,391.8Z" fill="#A5A5A5"/>
<path d="M474.5,357.8L479.1,367.0L469.9,367.0Z" fill="#A5A5A5"/>
<polyline points="69.8,447.2 94.7,449.3 127.9,430.8 158.3,433.7 175.4,438.8 180.6,448.4 194.7,436.2 199.9,432.5 233.2,431.3 252.4,426.7 263.4,430.4 267.7,431.1 286,433.3 305,435.2 321,436.6 332.8,429.3 357.7,417 374.5,418.9 391.3,417 410.3,415.7 427,418.4 438.7,400.8 457.2,400.8 463.1,401.8 474.3,406.2" fill="none" stroke="#FFC000" stroke-width="2.2" stroke-linejoin="round"/>
<path d="M65.8,443.2L73.8,451.2M73.8,443.2L65.8,451.2" stroke="#FFC000" stroke-width="1.6" fill="none"/>
<path d="M90.7,445.3L98.7,453.3M98.7,445.3L90.7,453.3" stroke="#FFC000" stroke-width="1.6" fill="none"/>
<path d="M123.9,426.8L131.9,434.8M131.9,426.8L123.9,434.8" stroke="#FFC000" stroke-width="1.6" fill="none"/>
<path d="M154.3,429.7L162.3,437.7M162.3,429.7L154.3,437.7" stroke="#FFC000" stroke-width="1.6" fill="none"/>
<path d="M171.4,434.8L179.4,442.8M179.4,434.8L171.4,442.8" stroke="#FFC000" stroke-width="1.6" fill="none"/>
<path d="M176.6,444.4L184.6,452.4M184.6,444.4L176.6,452.4" stroke="#FFC000" stroke-width="1.6" fill="none"/>
<path d="M190.7,432.2L198.7,440.2M198.7,432.2L190.7,440.2" stroke="#FFC000" stroke-width="1.6" fill="none"/>
<path d="M195.9,428.5L203.9,436.5M203.9,428.5L195.9,436.5" stroke="#FFC000" stroke-width="1.6" fill="none"/>
<path d="M229.2,427.3L237.2,435.3M237.2,427.3L229.2,435.3" stroke="#FFC000" stroke-width="1.6" fill="none"/>
<path d="M248.4,422.7L256.4,430.7M256.4,422.7L248.4,430.7" stroke="#FFC000" stroke-width="1.6" fill="none"/>
<path d="M259.4,426.4L267.4,434.4M267.4,426.4L259.4,434.4" stroke="#FFC000" stroke-width="1.6" fill="none"/>
<path d="M263.7,427.1L271.7,435.1M271.7,427.1L263.7,435.1" stroke="#FFC000" stroke-width="1.6" fill="none"/>
<path d="M282.0,429.3L290.0,437.3M290.0,429.3L282.0,437.3" stroke="#FFC000" stroke-width="1.6" fill="none"/>
<path d="M301.0,431.2L309.0,439.2M309.0,431.2L301.0,439.2" stroke="#FFC000" stroke-width="1.6" fill="none"/>
<path d="M317.0,432.6L325.0,440.6M325.0,432.6L317.0,440.6" stroke="#FFC000" stroke-width="1.6" fill="none"/>
<path d="M328.8,425.3L336.8,433.3M336.8,425.3L328.8,433.3" stroke="#FFC000" stroke-width="1.6" fill="none"/>
<path d="M353.7,413.0L361.7,421.0M361.7,413.0L353.7,421.0" stroke="#FFC000" stroke-width="1.6" fill="none"/>
<path d="M370.5,414.9L378.5,422.9M378.5,414.9L370.5,422.9" stroke="#FFC000" stroke-width="1.6" fill="none"/>
<path d="M387.3,413.0L395.3,421.0M395.3,413.0L387.3,421.0" stroke="#FFC000" stroke-width="1.6" fill="none"/>
<path d="M406.3,411.7L414.3,419.7M414.3,411.7L406.3,419.7" stroke="#FFC000" stroke-width="1.6" fill="none"/>
<path d="M423.0,414.4L431.0,422.4M431.0,414.4L423.0,422.4" stroke="#FFC000" stroke-width="1.6" fill="none"/>
<path d="M434.7,396.8L442.7,404.8M442.7,396.8L434.7,404.8" stroke="#FFC000" stroke-width="1.6" fill="none"/>
<path d="M453.2,396.8L461.2,404.8M461.2,396.8L453.2,404.8" stroke="#FFC000" stroke-width="1.6" fill="none"/>
<path d="M459.1,397.8L467.1,405.8M467.1,397.8L459.1,405.8" stroke="#FFC000" stroke-width="1.6" fill="none"/>
<path d="M470.3,402.2L478.3,410.2M478.3,402.2L470.3,410.2" stroke="#FFC000" stroke-width="1.6" fill="none"/>
<line x1="127.7" y1="325.1" x2="160.3" y2="325.1" stroke="#4472C4" stroke-width="2.2" stroke-linecap="round"/>
<path d="M143.8,320.5L148.4,325.1L143.8,329.7L139.2,325.1Z" fill="#4472C4"/>
<text x="163.1" y="329.8" font-size="14.2" >ICESat-2</text>
<line x1="224.4" y1="325.1" x2="256" y2="325.1" stroke="#ED7D31" stroke-width="2.2" stroke-linecap="round"/>
<rect x="234.7" y="320.7" width="8.8" height="8.8" fill="#ED7D31"/>
<text x="258.4" y="329.8" font-size="14.2" >Jiangba Station</text>
<line x1="354" y1="325.1" x2="384.8" y2="325.1" stroke="#A5A5A5" stroke-width="2.2" stroke-linecap="round"/>
<path d="M369.8,320.5L374.4,329.7L365.2,329.7Z" fill="#A5A5A5"/>
<text x="388.4" y="329.8" font-size="14.2" >GEDI</text>
<line x1="430.4" y1="325.1" x2="460.9" y2="325.1" stroke="#FFC000" stroke-width="2.2" stroke-linecap="round"/>
<path d="M441.8,321.1L449.8,329.1M449.8,321.1L441.8,329.1" stroke="#FFC000" stroke-width="1.6" fill="none"/>
<text x="464.4" y="329.8" font-size="14.2" >Jiangba Station</text>
<line x1="69.5" y1="651.3" x2="69.5" y2="843.2" stroke="#000" stroke-width="2"/>
<line x1="68.5" y1="842.2" x2="652.2" y2="842.2" stroke="#000" stroke-width="2"/>
<line x1="65.5" y1="652.3" x2="69.5" y2="652.3" stroke="#000" stroke-width="1.6"/>
<text x="57.7" y="657.1" font-size="14" text-anchor="end" >9.0</text>
<line x1="65.5" y1="671.3" x2="69.5" y2="671.3" stroke="#000" stroke-width="1.6"/>
<text x="57.7" y="676.1" font-size="14" text-anchor="end" >8.5</text>
<line x1="65.5" y1="690.3" x2="69.5" y2="690.3" stroke="#000" stroke-width="1.6"/>
<text x="57.7" y="695.1" font-size="14" text-anchor="end" >8.0</text>
<line x1="65.5" y1="709.3" x2="69.5" y2="709.3" stroke="#000" stroke-width="1.6"/>
<text x="57.7" y="714.1" font-size="14" text-anchor="end" >7.5</text>
<line x1="65.5" y1="728.3" x2="69.5" y2="728.3" stroke="#000" stroke-width="1.6"/>
<text x="57.7" y="733.1" font-size="14" text-anchor="end" >7.0</text>
<line x1="65.5" y1="747.2" x2="69.5" y2="747.2" stroke="#000" stroke-width="1.6"/>
<text x="57.7" y="752.0" font-size="14" text-anchor="end" >6.5</text>
<line x1="65.5" y1="766.2" x2="69.5" y2="766.2" stroke="#000" stroke-width="1.6"/>
<text x="57.7" y="771.0" font-size="14" text-anchor="end" >6.0</text>
<line x1="65.5" y1="785.2" x2="69.5" y2="785.2" stroke="#000" stroke-width="1.6"/>
<text x="57.7" y="790.0" font-size="14" text-anchor="end" >5.5</text>
<line x1="65.5" y1="804.2" x2="69.5" y2="804.2" stroke="#000" stroke-width="1.6"/>
<text x="57.7" y="809.0" font-size="14" text-anchor="end" >5.0</text>
<line x1="65.5" y1="823.2" x2="69.5" y2="823.2" stroke="#000" stroke-width="1.6"/>
<text x="57.7" y="828.0" font-size="14" text-anchor="end" >4.5</text>
<line x1="65.5" y1="842.2" x2="69.5" y2="842.2" stroke="#000" stroke-width="1.6"/>
<text x="57.7" y="847.0" font-size="14" text-anchor="end" >4.0</text>
<text transform="translate(28.3,751.4) rotate(-90)" font-size="16" text-anchor="middle" >Lake water level (m)</text>
<text x="13.7" y="657.7" font-size="16" font-weight="bold" >(c)</text>
<line x1="69.9" y1="842.2" x2="69.9" y2="846.2" stroke="#000" stroke-width="1.6"/>
<text transform="translate(75.2,850.8000000000001) rotate(-90)" font-size="14.5" letter-spacing="1.8" text-anchor="end" >2018-11-24</text>
<line x1="93.0" y1="842.2" x2="93.0" y2="846.2" stroke="#000" stroke-width="1.6"/>
<text transform="translate(98.3,850.8000000000001) rotate(-90)" font-size="14.5" letter-spacing="1.8" text-anchor="end" >2018-12-24</text>
<line x1="116.8" y1="842.2" x2="116.8" y2="846.2" stroke="#000" stroke-width="1.6"/>
<text transform="translate(122.1,850.8000000000001) rotate(-90)" font-size="14.5" letter-spacing="1.8" text-anchor="end" >2019-01-24</text>
<line x1="140.6" y1="842.2" x2="140.6" y2="846.2" stroke="#000" stroke-width="1.6"/>
<text transform="translate(145.9,850.8000000000001) rotate(-90)" font-size="14.5" letter-spacing="1.8" text-anchor="end" >2019-02-24</text>
<line x1="162.1" y1="842.2" x2="162.1" y2="846.2" stroke="#000" stroke-width="1.6"/>
<text transform="translate(167.4,850.8000000000001) rotate(-90)" font-size="14.5" letter-spacing="1.8" text-anchor="end" >2019-03-24</text>
<line x1="186.0" y1="842.2" x2="186.0" y2="846.2" stroke="#000" stroke-width="1.6"/>
<text transform="translate(191.3,850.8000000000001) rotate(-90)" font-size="14.5" letter-spacing="1.8" text-anchor="end" >2019-04-24</text>
<line x1="209.0" y1="842.2" x2="209.0" y2="846.2" stroke="#000" stroke-width="1.6"/>
<text transform="translate(214.3,850.8000000000001) rotate(-90)" font-size="14.5" letter-spacing="1.8" text-anchor="end" >2019-05-24</text>
<line x1="232.9" y1="842.2" x2="232.9" y2="846.2" stroke="#000" stroke-width="1.6"/>
<text transform="translate(238.2,850.8000000000001) rotate(-90)" font-size="14.5" letter-spacing="1.8" text-anchor="end" >2019-06-24</text>
<line x1="255.9" y1="842.2" x2="255.9" y2="846.2" stroke="#000" stroke-width="1.6"/>
<text transform="translate(261.2,850.8000000000001) rotate(-90)" font-size="14.5" letter-spacing="1.8" text-anchor="end" >2019-07-24</text>
<line x1="279.8" y1="842.2" x2="279.8" y2="846.2" stroke="#000" stroke-width="1.6"/>
<text transform="translate(285.1,850.8000000000001) rotate(-90)" font-size="14.5" letter-spacing="1.8" text-anchor="end" >2019-08-24</text>
<line x1="303.6" y1="842.2" x2="303.6" y2="846.2" stroke="#000" stroke-width="1.6"/>
<text transform="translate(308.9,850.8000000000001) rotate(-90)" font-size="14.5" letter-spacing="1.8" text-anchor="end" >2019-09-24</text>
<line x1="326.6" y1="842.2" x2="326.6" y2="846.2" stroke="#000" stroke-width="1.6"/>
<text transform="translate(331.9,850.8000000000001) rotate(-90)" font-size="14.5" letter-spacing="1.8" text-anchor="end" >2019-10-24</text>
<line x1="350.5" y1="842.2" x2="350.5" y2="846.2" stroke="#000" stroke-width="1.6"/>
<text transform="translate(355.8,850.8000000000001) rotate(-90)" font-size="14.5" letter-spacing="1.8" text-anchor="end" >2019-11-24</text>
<line x1="373.5" y1="842.2" x2="373.5" y2="846.2" stroke="#000" stroke-width="1.6"/>
<text transform="translate(378.8,850.8000000000001) rotate(-90)" font-size="14.5" letter-spacing="1.8" text-anchor="end" >2019-12-24</text>
<line x1="397.4" y1="842.2" x2="397.4" y2="846.2" stroke="#000" stroke-width="1.6"/>
<text transform="translate(402.7,850.8000000000001) rotate(-90)" font-size="14.5" letter-spacing="1.8" text-anchor="end" >2020-01-24</text>
<line x1="421.2" y1="842.2" x2="421.2" y2="846.2" stroke="#000" stroke-width="1.6"/>
<text transform="translate(426.5,850.8000000000001) rotate(-90)" font-size="14.5" letter-spacing="1.8" text-anchor="end" >2020-02-24</text>
<line x1="443.5" y1="842.2" x2="443.5" y2="846.2" stroke="#000" stroke-width="1.6"/>
<text transform="translate(448.8,850.8000000000001) rotate(-90)" font-size="14.5" letter-spacing="1.8" text-anchor="end" >2020-03-24</text>
<line x1="467.3" y1="842.2" x2="467.3" y2="846.2" stroke="#000" stroke-width="1.6"/>
<text transform="translate(472.6,850.8000000000001) rotate(-90)" font-size="14.5" letter-spacing="1.8" text-anchor="end" >2020-04-24</text>
<line x1="490.4" y1="842.2" x2="490.4" y2="846.2" stroke="#000" stroke-width="1.6"/>
<text transform="translate(495.7,850.8000000000001) rotate(-90)" font-size="14.5" letter-spacing="1.8" text-anchor="end" >2020-05-24</text>
<line x1="514.2" y1="842.2" x2="514.2" y2="846.2" stroke="#000" stroke-width="1.6"/>
<text transform="translate(519.5,850.8000000000001) rotate(-90)" font-size="14.5" letter-spacing="1.8" text-anchor="end" >2020-06-24</text>
<line x1="537.3" y1="842.2" x2="537.3" y2="846.2" stroke="#000" stroke-width="1.6"/>
<text transform="translate(542.6,850.8000000000001) rotate(-90)" font-size="14.5" letter-spacing="1.8" text-anchor="end" >2020-07-24</text>
<line x1="561.1" y1="842.2" x2="561.1" y2="846.2" stroke="#000" stroke-width="1.6"/>
<text transform="translate(566.4,850.8000000000001) rotate(-90)" font-size="14.5" letter-spacing="1.8" text-anchor="end" >2020-08-24</text>
<line x1="584.9" y1="842.2" x2="584.9" y2="846.2" stroke="#000" stroke-width="1.6"/>
<text transform="translate(590.2,850.8000000000001) rotate(-90)" font-size="14.5" letter-spacing="1.8" text-anchor="end" >2020-09-24</text>
<line x1="608.0" y1="842.2" x2="608.0" y2="846.2" stroke="#000" stroke-width="1.6"/>
<text transform="translate(613.3,850.8000000000001) rotate(-90)" font-size="14.5" letter-spacing="1.8" text-anchor="end" >2020-10-24</text>
<line x1="631.8" y1="842.2" x2="631.8" y2="846.2" stroke="#000" stroke-width="1.6"/>
<text transform="translate(637.1,850.8000000000001) rotate(-90)" font-size="14.5" letter-spacing="1.8" text-anchor="end" >2020-11-24</text>
<polyline points="69.9,767.2 92.3,766 140.1,757.8 162.5,770.7 216.3,779.6 232.9,785.8 302.6,788.1 308.8,791.8 349,794.3 356.5,798 488.4,793.8 496.6,798 565.5,746.5 581.6,766.9 628.9,768 635.7,765.8 651.5,769.6" fill="none" stroke="#4472C4" stroke-width="2.2" stroke-linejoin="round"/>
<path d="M69.9,762.6L74.5,767.2L69.9,771.8L65.3,767.2Z" fill="#4472C4"/>
<path d="M92.3,761.4L96.9,766.0L92.3,770.6L87.7,766.0Z" fill="#4472C4"/>
<path d="M140.1,753.2L144.7,757.8L140.1,762.4L135.5,757.8Z" fill="#4472C4"/>
<path d="M162.5,766.1L167.1,770.7L162.5,775.3L157.9,770.7Z" fill="#4472C4"/>
<path d="M216.3,775.0L220.9,779.6L216.3,784.2L211.7,779.6Z" fill="#4472C4"/>
<path d="M232.9,781.2L237.5,785.8L232.9,790.4L228.3,785.8Z" fill="#4472C4"/>
<path d="M302.6,783.5L307.2,788.1L302.6,792.7L298.0,788.1Z" fill="#4472C4"/>
<path d="M308.8,787.2L313.4,791.8L308.8,796.4L304.2,791.8Z" fill="#4472C4"/>
<path d="M349.0,789.7L353.6,794.3L349.0,798.9L344.4,794.3Z" fill="#4472C4"/>
<path d="M356.5,793.4L361.1,798.0L356.5,802.6L351.9,798.0Z" fill="#4472C4"/>
<path d="M488.4,789.2L493.0,793.8L488.4,798.4L483.8,793.8Z" fill="#4472C4"/>
<path d="M496.6,793.4L501.2,798.0L496.6,802.6L492.0,798.0Z" fill="#4472C4"/>
<path d="M565.5,741.9L570.1,746.5L565.5,751.1L560.9,746.5Z" fill="#4472C4"/>
<path d="M581.6,762.3L586.2,766.9L581.6,771.5L577.0,766.9Z" fill="#4472C4"/>
<path d="M628.9,763.4L633.5,768.0L628.9,772.6L624.3,768.0Z" fill="#4472C4"/>
<path d="M635.7,761.2L640.3,765.8L635.7,770.4L631.1,765.8Z" fill="#4472C4"/>
<path d="M651.5,765.0L656.1,769.6L651.5,774.2L646.9,769.6Z" fill="#4472C4"/>
<polyline points="69.9,759.5 92.3,757.8 140.1,750.3 162.5,765.2 216.3,775.2 232.9,780.1 302.6,778.4 308.8,782.1 349,787.6 356.5,788.8 488.4,787.1 496.6,790.8 565.5,738.6 581.6,760.6 628.9,759 635.7,757.4 651.5,760.1" fill="none" stroke="#ED7D31" stroke-width="2.2" stroke-linejoin="round"/>
<rect x="65.5" y="755.1" width="8.8" height="8.8" fill="#ED7D31"/>
<rect x="87.9" y="753.4" width="8.8" height="8.8" fill="#ED7D31"/>
<rect x="135.7" y="745.9" width="8.8" height="8.8" fill="#ED7D31"/>
<rect x="158.1" y="760.8" width="8.8" height="8.8" fill="#ED7D31"/>
<rect x="211.9" y="770.8" width="8.8" height="8.8" fill="#ED7D31"/>
<rect x="228.5" y="775.7" width="8.8" height="8.8" fill="#ED7D31"/>
<rect x="298.2" y="774.0" width="8.8" height="8.8" fill="#ED7D31"/>
<rect x="304.4" y="777.7" width="8.8" height="8.8" fill="#ED7D31"/>
<rect x="344.6" y="783.2" width="8.8" height="8.8" fill="#ED7D31"/>
<rect x="352.1" y="784.4" width="8.8" height="8.8" fill="#ED7D31"/>
<rect x="484.0" y="782.7" width="8.8" height="8.8" fill="#ED7D31"/>
<rect x="492.2" y="786.4" width="8.8" height="8.8" fill="#ED7D31"/>
<rect x="561.1" y="734.2" width="8.8" height="8.8" fill="#ED7D31"/>
<rect x="577.2" y="756.2" width="8.8" height="8.8" fill="#ED7D31"/>
<rect x="624.5" y="754.6" width="8.8" height="8.8" fill="#ED7D31"/>
<rect x="631.3" y="753.0" width="8.8" height="8.8" fill="#ED7D31"/>
<rect x="647.1" y="755.7" width="8.8" height="8.8" fill="#ED7D31"/>
<polyline points="69.9,757 92.3,768.5 140.1,748.6 162.5,747.9 216.3,726.8 232.9,773.9 302.6,769.5 308.8,757.8 347.8,738.4 356.5,662.8 488.4,708.2 496.6,690.3 565.5,697.9 581.6,738.2 628.9,740.9 635.7,728.9 651.5,741.6" fill="none" stroke="#A5A5A5" stroke-width="2.2" stroke-linejoin="round"/>
<path d="M69.9,752.4L74.5,761.6L65.3,761.6Z" fill="#A5A5A5"/>
<path d="M92.3,763.9L96.9,773.1L87.7,773.1Z" fill="#A5A5A5"/>
<path d="M140.1,744.0L144.7,753.2L135.5,753.2Z" fill="#A5A5A5"/>
<path d="M162.5,743.3L167.1,752.5L157.9,752.5Z" fill="#A5A5A5"/>
<path d="M216.3,722.2L220.9,731.4L211.7,731.4Z" fill="#A5A5A5"/>
<path d="M232.9,769.3L237.5,778.5L228.3,778.5Z" fill="#A5A5A5"/>
<path d="M302.6,764.9L307.2,774.1L298.0,774.1Z" fill="#A5A5A5"/>
<path d="M308.8,753.2L313.4,762.4L304.2,762.4Z" fill="#A5A5A5"/>
<path d="M347.8,733.8L352.4,743.0L343.2,743.0Z" fill="#A5A5A5"/>
<path d="M356.5,658.2L361.1,667.4L351.9,667.4Z" fill="#A5A5A5"/>
<path d="M488.4,703.6L493.0,712.8L483.8,712.8Z" fill="#A5A5A5"/>
<path d="M496.6,685.7L501.2,694.9L492.0,694.9Z" fill="#A5A5A5"/>
<path d="M565.5,693.3L570.1,702.5L560.9,702.5Z" fill="#A5A5A5"/>
<path d="M581.6,733.6L586.2,742.8L577.0,742.8Z" fill="#A5A5A5"/>
<path d="M628.9,736.3L633.5,745.5L624.3,745.5Z" fill="#A5A5A5"/>
<path d="M635.7,724.3L640.3,733.5L631.1,733.5Z" fill="#A5A5A5"/>
<path d="M651.5,737.0L656.1,746.2L646.9,746.2Z" fill="#A5A5A5"/>
<polyline points="69.9,780.1 92.3,779.6 140.1,780.6 162.5,783.1 216.3,788.1 232.9,781.4 304.4,785.1 308.8,785.1 349,786.3 357.2,680.9 488.4,686.6 496.6,714.4 565.5,728.9 581.6,746.1 628.9,764.6 635.7,760.1 651.5,760.1" fill="none" stroke="#FFC000" stroke-width="2.2" stroke-linejoin="round"/>
<path d="M65.9,776.1L73.9,784.1M73.9,776.1L65.9,784.1" stroke="#FFC000" stroke-width="1.6" fill="none"/>
<path d="M88.3,775.6L96.3,783.6M96.3,775.6L88.3,783.6" stroke="#FFC000" stroke-width="1.6" fill="none"/>
<path d="M136.1,776.6L144.1,784.6M144.1,776.6L136.1,784.6" stroke="#FFC000" stroke-width="1.6" fill="none"/>
<path d="M158.5,779.1L166.5,787.1M166.5,779.1L158.5,787.1" stroke="#FFC000" stroke-width="1.6" fill="none"/>
<path d="M212.3,784.1L220.3,792.1M220.3,784.1L212.3,792.1" stroke="#FFC000" stroke-width="1.6" fill="none"/>
<path d="M228.9,777.4L236.9,785.4M236.9,777.4L228.9,785.4" stroke="#FFC000" stroke-width="1.6" fill="none"/>
<path d="M300.4,781.1L308.4,789.1M308.4,781.1L300.4,789.1" stroke="#FFC000" stroke-width="1.6" fill="none"/>
<path d="M304.8,781.1L312.8,789.1M312.8,781.1L304.8,789.1" stroke="#FFC000" stroke-width="1.6" fill="none"/>
<path d="M345.0,782.3L353.0,790.3M353.0,782.3L345.0,790.3" stroke="#FFC000" stroke-width="1.6" fill="none"/>
<path d="M353.2,676.9L361.2,684.9M361.2,676.9L353.2,684.9" stroke="#FFC000" stroke-width="1.6" fill="none"/>
<path d="M484.4,682.6L492.4,690.6M492.4,682.6L484.4,690.6" stroke="#FFC000" stroke-width="1.6" fill="none"/>
<path d="M492.6,710.4L500.6,718.4M500.6,710.4L492.6,718.4" stroke="#FFC000" stroke-width="1.6" fill="none"/>
<path d="M561.5,724.9L569.5,732.9M569.5,724.9L561.5,732.9" stroke="#FFC000" stroke-width="1.6" fill="none"/>
<path d="M577.6,742.1L585.6,750.1M585.6,742.1L577.6,750.1" stroke="#FFC000" stroke-width="1.6" fill="none"/>
<path d="M624.9,760.6L632.9,768.6M632.9,760.6L624.9,768.6" stroke="#FFC000" stroke-width="1.6" fill="none"/>
<path d="M631.7,756.1L639.7,764.1M639.7,756.1L631.7,764.1" stroke="#FFC000" stroke-width="1.6" fill="none"/>
<path d="M647.5,756.1L655.5,764.1M655.5,756.1L647.5,764.1" stroke="#FFC000" stroke-width="1.6" fill="none"/>
<line x1="112.1" y1="648.6" x2="144.4" y2="648.6" stroke="#4472C4" stroke-width="2.2" stroke-linecap="round"/>
<path d="M128.2,644.0L132.8,648.6L128.2,653.2L123.6,648.6Z" fill="#4472C4"/>
<text x="146.8" y="653.3000000000001" font-size="14.2" >ICESat-2</text>
<line x1="223.7" y1="648.6" x2="254.7" y2="648.6" stroke="#ED7D31" stroke-width="2.2" stroke-linecap="round"/>
<rect x="234.2" y="644.2" width="8.8" height="8.8" fill="#ED7D31"/>
<text x="257.7" y="653.3000000000001" font-size="14.2" >Gaoyou Station</text>
<line x1="370.1" y1="648.6" x2="401.1" y2="648.6" stroke="#A5A5A5" stroke-width="2.2" stroke-linecap="round"/>
<path d="M386.0,644.0L390.6,653.2L381.4,653.2Z" fill="#A5A5A5"/>
<text x="404.1" y="653.3000000000001" font-size="14.2" >GEDI</text>
<line x1="462.6" y1="648.6" x2="494.1" y2="648.6" stroke="#FFC000" stroke-width="2.2" stroke-linecap="round"/>
<path d="M474.0,644.6L482.0,652.6M482.0,644.6L474.0,652.6" stroke="#FFC000" stroke-width="1.6" fill="none"/>
<text x="496.6" y="653.3000000000001" font-size="14.2" >Gaoyou Station</text>
<line x1="69.3" y1="968.5" x2="69.3" y2="1179" stroke="#000" stroke-width="2"/>
<line x1="68.3" y1="1178" x2="637.9" y2="1178" stroke="#000" stroke-width="2"/>
<line x1="65.3" y1="969.5" x2="69.3" y2="969.5" stroke="#000" stroke-width="1.6"/>
<text x="54.4" y="974.3" font-size="14" text-anchor="end" >5.0</text>
<line x1="65.3" y1="990.4" x2="69.3" y2="990.4" stroke="#000" stroke-width="1.6"/>
<text x="54.4" y="995.1" font-size="14" text-anchor="end" >4.5</text>
<line x1="65.3" y1="1011.2" x2="69.3" y2="1011.2" stroke="#000" stroke-width="1.6"/>
<text x="54.4" y="1016.0" font-size="14" text-anchor="end" >4.0</text>
<line x1="65.3" y1="1032.0" x2="69.3" y2="1032.0" stroke="#000" stroke-width="1.6"/>
<text x="54.4" y="1036.8" font-size="14" text-anchor="end" >3.5</text>
<line x1="65.3" y1="1052.9" x2="69.3" y2="1052.9" stroke="#000" stroke-width="1.6"/>
<text x="54.4" y="1057.7" font-size="14" text-anchor="end" >3.0</text>
<line x1="65.3" y1="1073.8" x2="69.3" y2="1073.8" stroke="#000" stroke-width="1.6"/>
<text x="54.4" y="1078.5" font-size="14" text-anchor="end" >2.5</text>
<line x1="65.3" y1="1094.6" x2="69.3" y2="1094.6" stroke="#000" stroke-width="1.6"/>
<text x="54.4" y="1099.4" font-size="14" text-anchor="end" >2.0</text>
<line x1="65.3" y1="1115.5" x2="69.3" y2="1115.5" stroke="#000" stroke-width="1.6"/>
<text x="54.4" y="1120.2" font-size="14" text-anchor="end" >1.5</text>
<line x1="65.3" y1="1136.3" x2="69.3" y2="1136.3" stroke="#000" stroke-width="1.6"/>
<text x="54.4" y="1141.1" font-size="14" text-anchor="end" >1.0</text>
<line x1="65.3" y1="1157.2" x2="69.3" y2="1157.2" stroke="#000" stroke-width="1.6"/>
<text x="54.4" y="1162.0" font-size="14" text-anchor="end" >0.5</text>
<line x1="65.3" y1="1178.0" x2="69.3" y2="1178.0" stroke="#000" stroke-width="1.6"/>
<text x="54.4" y="1182.8" font-size="14" text-anchor="end" >0.0</text>
<text transform="translate(23.0,1077.6) rotate(-90)" font-size="16" text-anchor="middle" >Lake water level (m)</text>
<text x="8.2" y="974.7" font-size="16" font-weight="bold" >(d)</text>
<line x1="69.2" y1="1178" x2="69.2" y2="1182" stroke="#000" stroke-width="1.6"/>
<text transform="translate(74.0,1196.3) rotate(-45)" font-size="14.5" letter-spacing="1.8" text-anchor="end" >2018-10-18</text>
<line x1="103.9" y1="1178" x2="103.9" y2="1182" stroke="#000" stroke-width="1.6"/>
<text transform="translate(108.7,1196.3) rotate(-45)" font-size="14.5" letter-spacing="1.8" text-anchor="end" >2018-12-18</text>
<line x1="139.2" y1="1178" x2="139.2" y2="1182" stroke="#000" stroke-width="1.6"/>
<text transform="translate(144.0,1196.3) rotate(-45)" font-size="14.5" letter-spacing="1.8" text-anchor="end" >2019-02-18</text>
<line x1="172.8" y1="1178" x2="172.8" y2="1182" stroke="#000" stroke-width="1.6"/>
<text transform="translate(177.6,1196.3) rotate(-45)" font-size="14.5" letter-spacing="1.8" text-anchor="end" >2019-04-18</text>
<line x1="207.5" y1="1178" x2="207.5" y2="1182" stroke="#000" stroke-width="1.6"/>
<text transform="translate(212.3,1196.3) rotate(-45)" font-size="14.5" letter-spacing="1.8" text-anchor="end" >2019-06-18</text>
<line x1="242.2" y1="1178" x2="242.2" y2="1182" stroke="#000" stroke-width="1.6"/>
<text transform="translate(247.0,1196.3) rotate(-45)" font-size="14.5" letter-spacing="1.8" text-anchor="end" >2019-08-18</text>
<line x1="276.9" y1="1178" x2="276.9" y2="1182" stroke="#000" stroke-width="1.6"/>
<text transform="translate(281.7,1196.3) rotate(-45)" font-size="14.5" letter-spacing="1.8" text-anchor="end" >2019-10-18</text>
<line x1="311.6" y1="1178" x2="311.6" y2="1182" stroke="#000" stroke-width="1.6"/>
<text transform="translate(316.4,1196.3) rotate(-45)" font-size="14.5" letter-spacing="1.8" text-anchor="end" >2019-12-18</text>
<line x1="346.9" y1="1178" x2="346.9" y2="1182" stroke="#000" stroke-width="1.6"/>
<text transform="translate(351.7,1196.3) rotate(-45)" font-size="14.5" letter-spacing="1.8" text-anchor="end" >2020-02-18</text>
<line x1="381.1" y1="1178" x2="381.1" y2="1182" stroke="#000" stroke-width="1.6"/>
<text transform="translate(385.9,1196.3) rotate(-45)" font-size="14.5" letter-spacing="1.8" text-anchor="end" >2020-04-18</text>
<line x1="415.8" y1="1178" x2="415.8" y2="1182" stroke="#000" stroke-width="1.6"/>
<text transform="translate(420.6,1196.3) rotate(-45)" font-size="14.5" letter-spacing="1.8" text-anchor="end" >2020-06-18</text>
<line x1="450.5" y1="1178" x2="450.5" y2="1182" stroke="#000" stroke-width="1.6"/>
<text transform="translate(455.3,1196.3) rotate(-45)" font-size="14.5" letter-spacing="1.8" text-anchor="end" >2020-08-18</text>
<line x1="485.2" y1="1178" x2="485.2" y2="1182" stroke="#000" stroke-width="1.6"/>
<text transform="translate(490.0,1196.3) rotate(-45)" font-size="14.5" letter-spacing="1.8" text-anchor="end" >2020-10-18</text>
<line x1="519.9" y1="1178" x2="519.9" y2="1182" stroke="#000" stroke-width="1.6"/>
<text transform="translate(524.7,1196.3) rotate(-45)" font-size="14.5" letter-spacing="1.8" text-anchor="end" >2020-12-18</text>
<line x1="555.2" y1="1178" x2="555.2" y2="1182" stroke="#000" stroke-width="1.6"/>
<text transform="translate(560.0,1196.3) rotate(-45)" font-size="14.5" letter-spacing="1.8" text-anchor="end" >2021-02-18</text>
<line x1="588.8" y1="1178" x2="588.8" y2="1182" stroke="#000" stroke-width="1.6"/>
<text transform="translate(593.6,1196.3) rotate(-45)" font-size="14.5" letter-spacing="1.8" text-anchor="end" >2021-04-18</text>
<line x1="623.5" y1="1178" x2="623.5" y2="1182" stroke="#000" stroke-width="1.6"/>
<text transform="translate(628.3,1196.3) rotate(-45)" font-size="14.5" letter-spacing="1.8" text-anchor="end" >2021-06-18</text>
<polyline points="69.2,1117.2 78,1120.7 94.3,1116.6 110.7,1106.3 121.7,1107 157.1,1118 173.4,1121.7 181,1123.3 189.8,1122.5 224.9,1091 232.4,1108.4 241.6,1090.6 249,1108.4 257.6,1103.3 265.7,1109 276.4,1121.7 292.9,1121.3 317,1120.7 335.8,1112.5 352.4,1112.9 363,1118.6 379.8,1116 419.8,1099.2 438.6,1063.4 447.9,1090 455.6,1110.4 471.6,1101.2 499.6,1118 523.7,1124.7 534.3,1126.2 558.8,1131.3 575.3,1118.7 627.1,1110.2 637.9,1103.8" fill="none" stroke="#4472C4" stroke-width="2.2" stroke-linejoin="round"/>
<path d="M69.2,1112.6L73.8,1117.2L69.2,1121.8L64.6,1117.2Z" fill="#4472C4"/>
<path d="M78.0,1116.1L82.6,1120.7L78.0,1125.3L73.4,1120.7Z" fill="#4472C4"/>
<path d="M94.3,1112.0L98.9,1116.6L94.3,1121.2L89.7,1116.6Z" fill="#4472C4"/>
<path d="M110.7,1101.7L115.3,1106.3L110.7,1110.9L106.1,1106.3Z" fill="#4472C4"/>
<path d="M121.7,1102.4L126.3,1107.0L121.7,1111.6L117.1,1107.0Z" fill="#4472C4"/>
<path d="M157.1,1113.4L161.7,1118.0L157.1,1122.6L152.5,1118.0Z" fill="#4472C4"/>
<path d="M173.4,1117.1L178.0,1121.7L173.4,1126.3L168.8,1121.7Z" fill="#4472C4"/>
<path d="M181.0,1118.7L185.6,1123.3L181.0,1127.9L176.4,1123.3Z" fill="#4472C4"/>
<path d="M189.8,1117.9L194.4,1122.5L189.8,1127.1L185.2,1122.5Z" fill="#4472C4"/>
<path d="M224.9,1086.4L229.5,1091.0L224.9,1095.6L220.3,1091.0Z" fill="#4472C4"/>
<path d="M232.4,1103.8L237.0,1108.4L232.4,1113.0L227.8,1108.4Z" fill="#4472C4"/>
<path d="M241.6,1086.0L246.2,1090.6L241.6,1095.2L237.0,1090.6Z" fill="#4472C4"/>
<path d="M249.0,1103.8L253.6,1108.4L249.0,1113.0L244.4,1108.4Z" fill="#4472C4"/>
<path d="M257.6,1098.7L262.2,1103.3L257.6,1107.9L253.0,1103.3Z" fill="#4472C4"/>
<path d="M265.7,1104.4L270.3,1109.0L265.7,1113.6L261.1,1109.0Z" fill="#4472C4"/>
<path d="M276.4,1117.1L281.0,1121.7L276.4,1126.3L271.8,1121.7Z" fill="#4472C4"/>
<path d="M292.9,1116.7L297.5,1121.3L292.9,1125.9L288.3,1121.3Z" fill="#4472C4"/>
<path d="M317.0,1116.1L321.6,1120.7L317.0,1125.3L312.4,1120.7Z" fill="#4472C4"/>
<path d="M335.8,1107.9L340.4,1112.5L335.8,1117.1L331.2,1112.5Z" fill="#4472C4"/>
<path d="M352.4,1108.3L357.0,1112.9L352.4,1117.5L347.8,1112.9Z" fill="#4472C4"/>
<path d="M363.0,1114.0L367.6,1118.6L363.0,1123.2L358.4,1118.6Z" fill="#4472C4"/>
<path d="M379.8,1111.4L384.4,1116.0L379.8,1120.6L375.2,1116.0Z" fill="#4472C4"/>
<path d="M419.8,1094.6L424.4,1099.2L419.8,1103.8L415.2,1099.2Z" fill="#4472C4"/>
<path d="M438.6,1058.8L443.2,1063.4L438.6,1068.0L434.0,1063.4Z" fill="#4472C4"/>
<path d="M447.9,1085.4L452.5,1090.0L447.9,1094.6L443.3,1090.0Z" fill="#4472C4"/>
<path d="M455.6,1105.8L460.2,1110.4L455.6,1115.0L451.0,1110.4Z" fill="#4472C4"/>
<path d="M471.6,1096.6L476.2,1101.2L471.6,1105.8L467.0,1101.2Z" fill="#4472C4"/>
<path d="M499.6,1113.4L504.2,1118.0L499.6,1122.6L495.0,1118.0Z" fill="#4472C4"/>
<path d="M523.7,1120.1L528.3,1124.7L523.7,1129.3L519.1,1124.7Z" fill="#4472C4"/>
<path d="M534.3,1121.6L538.9,1126.2L534.3,1130.8L529.7,1126.2Z" fill="#4472C4"/>
<path d="M558.8,1126.7L563.4,1131.3L558.8,1135.9L554.2,1131.3Z" fill="#4472C4"/>
<path d="M575.3,1114.1L579.9,1118.7L575.3,1123.3L570.7,1118.7Z" fill="#4472C4"/>
<path d="M627.1,1105.6L631.7,1110.2L627.1,1114.8L622.5,1110.2Z" fill="#4472C4"/>
<path d="M637.9,1099.2L642.5,1103.8L637.9,1108.4L633.3,1103.8Z" fill="#4472C4"/>
<polyline points="69.2,1039.9 78,1045 94.3,1043 110.7,1034.8 121.7,1034.4 157.1,1039.9 163.2,1041.6 173.4,1047.7 181,1048.7 189.8,1050.8 224.9,1022.1 232.4,1033.4 241.6,1021.1 249,1031.7 257.6,1024.6 265.7,1036.9 276.4,1045 292.9,1051.2 317,1048.1 335.8,1036.9 352.4,1041.6 363,1044.4 379.8,1045 419.8,1025.6 438.6,988.8 447.9,1018.1 455.6,1033.8 471.6,1028.7 499.6,1042.4 523.7,1051.2 534.3,1053.8 558.8,1054.2 575.3,1044 627.1,1035 637.9,1029.4" fill="none" stroke="#ED7D31" stroke-width="2.2" stroke-linejoin="round"/>
<rect x="64.5" y="1035.2" width="9.3" height="9.3" fill="#ED7D31"/>
<rect x="73.3" y="1040.3" width="9.3" height="9.3" fill="#ED7D31"/>
<rect x="89.6" y="1038.3" width="9.3" height="9.3" fill="#ED7D31"/>
<rect x="106.0" y="1030.1" width="9.3" height="9.3" fill="#ED7D31"/>
<rect x="117.0" y="1029.8" width="9.3" height="9.3" fill="#ED7D31"/>
<rect x="152.4" y="1035.2" width="9.3" height="9.3" fill="#ED7D31"/>
<rect x="158.5" y="1036.9" width="9.3" height="9.3" fill="#ED7D31"/>
<rect x="168.8" y="1043.0" width="9.3" height="9.3" fill="#ED7D31"/>
<rect x="176.3" y="1044.0" width="9.3" height="9.3" fill="#ED7D31"/>
<rect x="185.2" y="1046.1" width="9.3" height="9.3" fill="#ED7D31"/>
<rect x="220.2" y="1017.5" width="9.3" height="9.3" fill="#ED7D31"/>
<rect x="227.8" y="1028.8" width="9.3" height="9.3" fill="#ED7D31"/>
<rect x="236.9" y="1016.5" width="9.3" height="9.3" fill="#ED7D31"/>
<rect x="244.3" y="1027.0" width="9.3" height="9.3" fill="#ED7D31"/>
<rect x="253.0" y="1019.9" width="9.3" height="9.3" fill="#ED7D31"/>
<rect x="261.1" y="1032.2" width="9.3" height="9.3" fill="#ED7D31"/>
<rect x="271.8" y="1040.3" width="9.3" height="9.3" fill="#ED7D31"/>
<rect x="288.2" y="1046.5" width="9.3" height="9.3" fill="#ED7D31"/>
<rect x="312.4" y="1043.4" width="9.3" height="9.3" fill="#ED7D31"/>
<rect x="331.2" y="1032.2" width="9.3" height="9.3" fill="#ED7D31"/>
<rect x="347.8" y="1036.9" width="9.3" height="9.3" fill="#ED7D31"/>
<rect x="358.4" y="1039.8" width="9.3" height="9.3" fill="#ED7D31"/>
<rect x="375.2" y="1040.3" width="9.3" height="9.3" fill="#ED7D31"/>
<rect x="415.2" y="1020.9" width="9.3" height="9.3" fill="#ED7D31"/>
<rect x="434.0" y="984.1" width="9.3" height="9.3" fill="#ED7D31"/>
<rect x="443.2" y="1013.5" width="9.3" height="9.3" fill="#ED7D31"/>
<rect x="451.0" y="1029.1" width="9.3" height="9.3" fill="#ED7D31"/>
<rect x="467.0" y="1024.0" width="9.3" height="9.3" fill="#ED7D31"/>
<rect x="495.0" y="1037.8" width="9.3" height="9.3" fill="#ED7D31"/>
<rect x="519.1" y="1046.5" width="9.3" height="9.3" fill="#ED7D31"/>
<rect x="529.6" y="1049.1" width="9.3" height="9.3" fill="#ED7D31"/>
<rect x="554.1" y="1049.5" width="9.3" height="9.3" fill="#ED7D31"/>
<rect x="570.6" y="1039.3" width="9.3" height="9.3" fill="#ED7D31"/>
<rect x="622.5" y="1030.3" width="9.3" height="9.3" fill="#ED7D31"/>
<rect x="633.2" y="1024.8" width="9.3" height="9.3" fill="#ED7D31"/>
<polyline points="69.2,1117.2 78,1072.2 94.3,1067.1 110.7,1060.4 121.7,1088.4 157.1,1092.4 162.2,1112.5 173.4,1090.4 181,1100.6 189.8,1096.7" fill="none" stroke="#A5A5A5" stroke-width="2.2" stroke-linejoin="round"/>
<path d="M69.2,1111.9L74.5,1122.5L63.9,1122.5Z" fill="#A5A5A5"/>
<path d="M78.0,1066.9L83.3,1077.5L72.7,1077.5Z" fill="#A5A5A5"/>
<path d="M94.3,1061.8L99.6,1072.4L89.0,1072.4Z" fill="#A5A5A5"/>
<path d="M110.7,1055.1L116.0,1065.7L105.4,1065.7Z" fill="#A5A5A5"/>
<path d="M121.7,1083.1L127.0,1093.7L116.4,1093.7Z" fill="#A5A5A5"/>
<path d="M157.1,1087.1L162.4,1097.7L151.8,1097.7Z" fill="#A5A5A5"/>
<path d="M162.2,1107.2L167.5,1117.8L156.9,1117.8Z" fill="#A5A5A5"/>
<path d="M173.4,1085.1L178.7,1095.7L168.1,1095.7Z" fill="#A5A5A5"/>
<path d="M181.0,1095.3L186.3,1105.9L175.7,1105.9Z" fill="#A5A5A5"/>
<path d="M189.8,1091.4L195.1,1102.0L184.5,1102.0Z" fill="#A5A5A5"/>
<polyline points="69.2,1050.1 78,1051.2 94.3,1028.3 110.7,1031.7 121.7,1049.1 157.1,1050.1 163.2,1049.1 172.4,1049.7 181,1040.9 189.8,1035.8" fill="none" stroke="#FFC000" stroke-width="2.2" stroke-linejoin="round"/>
<path d="M65.2,1046.1L73.2,1054.1M73.2,1046.1L65.2,1054.1" stroke="#FFC000" stroke-width="1.6" fill="none"/>
<path d="M74.0,1047.2L82.0,1055.2M82.0,1047.2L74.0,1055.2" stroke="#FFC000" stroke-width="1.6" fill="none"/>
<path d="M90.3,1024.3L98.3,1032.3M98.3,1024.3L90.3,1032.3" stroke="#FFC000" stroke-width="1.6" fill="none"/>
<path d="M106.7,1027.7L114.7,1035.7M114.7,1027.7L106.7,1035.7" stroke="#FFC000" stroke-width="1.6" fill="none"/>
<path d="M117.7,1045.1L125.7,1053.1M125.7,1045.1L117.7,1053.1" stroke="#FFC000" stroke-width="1.6" fill="none"/>
<path d="M153.1,1046.1L161.1,1054.1M161.1,1046.1L153.1,1054.1" stroke="#FFC000" stroke-width="1.6" fill="none"/>
<path d="M159.2,1045.1L167.2,1053.1M167.2,1045.1L159.2,1053.1" stroke="#FFC000" stroke-width="1.6" fill="none"/>
<path d="M168.4,1045.7L176.4,1053.7M176.4,1045.7L168.4,1053.7" stroke="#FFC000" stroke-width="1.6" fill="none"/>
<path d="M177.0,1036.9L185.0,1044.9M185.0,1036.9L177.0,1044.9" stroke="#FFC000" stroke-width="1.6" fill="none"/>
<path d="M185.8,1031.8L193.8,1039.8M193.8,1031.8L185.8,1039.8" stroke="#FFC000" stroke-width="1.6" fill="none"/>
<line x1="125.2" y1="968.6" x2="156.3" y2="968.6" stroke="#4472C4" stroke-width="2.2" stroke-linecap="round"/>
<path d="M140.6,964.0L145.2,968.6L140.6,973.2L136.0,968.6Z" fill="#4472C4"/>
<text x="159.5" y="973.3000000000001" font-size="14.2" >ICESat-2</text>
<line x1="222.8" y1="968.6" x2="254.5" y2="968.6" stroke="#ED7D31" stroke-width="2.2" stroke-linecap="round"/>
<rect x="234.1" y="964.2" width="8.8" height="8.8" fill="#ED7D31"/>
<text x="258.2" y="973.3000000000001" font-size="14.2" >Water level stations</text>
<line x1="380.4" y1="968.6" x2="413.1" y2="968.6" stroke="#A5A5A5" stroke-width="2.2" stroke-linecap="round"/>
<path d="M396.7,964.0L401.3,973.2L392.1,973.2Z" fill="#A5A5A5"/>
<text x="415.6" y="973.3000000000001" font-size="14.2" >GEDI</text>
<line x1="459.3" y1="968.6" x2="491.6" y2="968.6" stroke="#FFC000" stroke-width="2.2" stroke-linecap="round"/>
<path d="M471.2,964.6L479.2,972.6M479.2,964.6L471.2,972.6" stroke="#FFC000" stroke-width="1.6" fill="none"/>
<text x="495.1" y="973.3000000000001" font-size="14.2" >Water level stations</text>
</svg></body></html>
